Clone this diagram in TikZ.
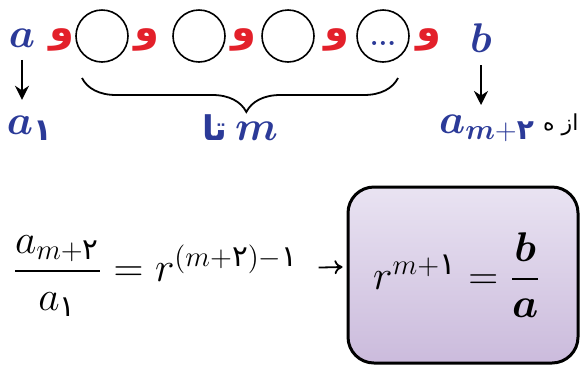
\documentclass[tikz,border=0pt]{standalone}
\usepackage{amsmath}
\usepackage{bm}
\usepackage{fontspec}
\usetikzlibrary{arrows.meta,decorations.pathreplacing,shadings}
\newfontfamily\arabicfont[Script=Arabic]{DejaVu Sans}
\TeXXeTstate=1
\definecolor{mblue}{HTML}{2B3A98}
\definecolor{mred}{HTML}{E3202A}
\definecolor{boxtop}{HTML}{E9E3F2}
\definecolor{boxbot}{HTML}{CBBBDC}
\newcommand{\fa}[1]{\text{\arabicfont #1}}
\newcommand{\faB}[1]{\text{\arabicfont\bfseries #1}}
\begin{document}
\begin{tikzpicture}[x=0.5pt,y=-0.5pt, semithick]
    \tikzset{var/.style={text=mblue,inner sep=0pt,font=\fontsize{22}{25}\selectfont},
      waw/.style={text=mred,inner sep=0pt,font=\arabicfont\bfseries\fontsize{20}{22}\selectfont},
      slot/.style={draw=black,circle,minimum size=26pt,inner sep=0pt,line width=0.8pt},
      down/.style={-{Stealth[length=7pt,width=7pt]},line width=1.4pt,shorten <=6pt},
      resbox/.style={draw=black,line width=1.5pt,rounded corners=13pt,
        top color=boxtop,bottom color=boxbot,minimum width=115pt,minimum height=88pt}};
    \useasboundingbox (0,0) rectangle (582,365);
    % top row
    \node[var] (sA) at (22,38) {$\bm{a}$};
    \node[var] (sB) at (481,38) {$\bm{b}$};
    \node[waw] (w1) at (62,40) {\beginR و\endR};
    \node[slot] (c1) at (102,36) {};
    \node[waw] (w2) at (147,40) {\beginR و\endR};
    \node[slot] (c2) at (199,36) {};
    \node[waw] (w3) at (244,40) {\beginR و\endR};
    \node[slot] (c3) at (288,36) {};
    \node[waw] (w4) at (337,40) {\beginR و\endR};
    \node[slot] (c4) at (383,36) {};
    \node[text=mblue,font=\bfseries\fontsize{14}{16}\selectfont,inner sep=0pt] (dots) at (383,43) {...};
    \node[waw] (w5) at (429,40) {\beginR و\endR};
    % second row
    \node[var] (sA1) at (30,128) {$\bm{a}_{\faB{۱}}$};
    \node[var,font=\fontsize{20}{23}\selectfont] (sAm) at (487,128) {$\bm{a}_{\bm{m}+\faB{۲}}$};
    \coordinate (brL) at (82,78);
    \coordinate (brR) at (398,78);
    \node[var] (lblM) at (240,128) {{\arabicfont\bfseries\fontsize{17}{19}\selectfont\beginR تا\endR}\,$\bm{m}$};
    \node[inner sep=0pt,font=\arabicfont\fontsize{11}{13}\selectfont,anchor=east] (cut) at (579,125) {\beginR از ه\endR};
    {
      \path[down]
        (sA) edge ([yshift=-26pt]sA.south)
        (sB) edge ([yshift=-26pt]sB.south)
        ;
      }
    \draw[line width=0.9pt,decoration={brace,amplitude=17pt,aspect=0.52,mirror},decorate] (brL) -- (brR);
    % bottom row
    \node[inner sep=0pt,font=\fontsize{21}{24}\selectfont,anchor=west] (eq) at (12,276)
      {$\dfrac{a_{m+\fa{۲}}}{a_{\fa{۱}}}=r^{(m+\fa{۲})-\fa{۱}}$};
    \node[resbox,font=\fontsize{22}{25}\selectfont] (res) at (463,275)
      {$r^{m+\fa{۱}}=\dfrac{\bm{b}}{\bm{a}}$\hspace*{6pt}};
    \path[-{To[length=4pt,width=7pt]},line width=0.9pt,shorten <=10pt] ([yshift=4pt]eq.east) edge ([xshift=-2pt,yshift=4pt]res.west);
\end{tikzpicture}
\end{document}
